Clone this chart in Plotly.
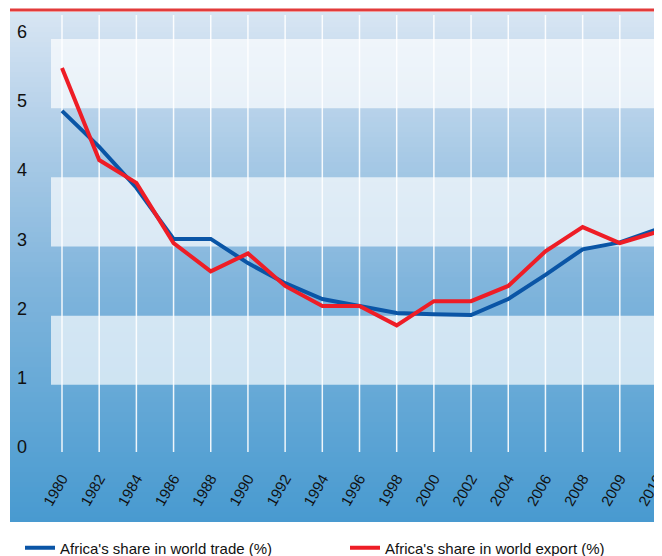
import plotly.graph_objects as go

years = ["1980", "1982", "1984", "1986", "1988", "1990", "1992", "1994", "1996",
         "1998", "2000", "2002", "2004", "2006", "2008", "2009", "2010"]
trade = [4.96, 4.44, 3.85, 3.11, 3.11, 2.76, 2.47, 2.24, 2.14,
         2.04, 2.02, 2.01, 2.24, 2.59, 2.96, 3.06, 3.25]
export = [5.58, 4.25, 3.92, 3.05, 2.64, 2.90, 2.43, 2.14, 2.14,
          1.86, 2.21, 2.21, 2.43, 2.93, 3.28, 3.05, 3.21]
y_ticks = [0, 1, 2, 3, 4, 5, 6]
trade_name = "Africa's share in world trade (%)"
export_name = "Africa's share in world export (%)"

OFF = 8                      # page body margin
W, H = 662 - OFF, 556 - OFF
ML, MR = 10 - OFF, 0
MT = 12 - OFF
PLOT_BOT = 466               # page pixel row of plot bottom
MB = H - (PLOT_BOT - OFF)
plot_h = H - MT - MB
plot_w = W - ML - MR

def py(pix):
    return (H - MB - (pix - OFF)) / plot_h

def pxx(pix):
    return (pix - OFF - ML) / plot_w

stops = [(12, (216, 229, 243)), (143, (172, 204, 231)), (281, (129, 181, 220)),
         (400, (100, 168, 214)), (522, (72, 154, 208))]

def col_at(p):
    for (p0, c0), (p1, c1) in zip(stops[:-1], stops[1:]):
        if p0 <= p <= p1:
            t = (p - p0) / (p1 - p0)
            return tuple(round(a + (b - a) * t) for a, b in zip(c0, c1))
    return stops[-1][1]

shapes = []
N = 102
top, bot = 12, 522
step = (bot - top) / N
for i in range(N):
    p0 = top + i * step
    p1 = p0 + step + 0.6
    c = col_at(p0 + step / 2)
    shapes.append(dict(type="rect", xref="paper", yref="paper", x0=0, x1=1,
                       y0=py(min(p1, bot)), y1=py(p0), layer="below",
                       line=dict(width=0), fillcolor="rgb(%d,%d,%d)" % c))

for v in y_ticks[1::2]:
    shapes.append(dict(type="rect", xref="paper", yref="y", x0=pxx(51), x1=pxx(658),
                       y0=v, y1=v + 1, layer="below", line=dict(width=0),
                       fillcolor="rgba(255,255,255,0.68)"))

shapes.append(dict(type="line", xref="paper", yref="paper", x0=0, x1=1,
                   y0=py(10), y1=py(10), line=dict(color="#e23b3b", width=3)))

px_per_idx = (657 - 62) / (len(years) - 1)
xr0 = -(62 - 10) / px_per_idx
xr1 = (len(years) - 1) + (662 - 657) / px_per_idx
px_per_unit = (454 - 39) / 6
yr0 = -(PLOT_BOT - 454) / px_per_unit
yr1 = 6 + (39 - 12) / px_per_unit

# vertical white guide lines at each year (drawn beneath the data lines)
g_lo = yr0 + (PLOT_BOT - 452) / px_per_unit
g_hi = yr0 + (PLOT_BOT - 15) / px_per_unit
gx, gy = [], []
for yr in years:
    gx += [yr, yr, None]
    gy += [g_lo, g_hi, None]

fig = go.Figure()
fig.add_trace(go.Scatter(x=gx, y=gy, mode="lines", showlegend=False, hoverinfo="skip",
                         line=dict(color="rgba(255,255,255,0.9)", width=1.5)))
fig.add_trace(go.Scatter(x=years, y=trade, mode="lines", name=trade_name,
                         line=dict(color="#0a55a6", width=4), legend="legend"))
fig.add_trace(go.Scatter(x=years, y=export, mode="lines", name=export_name,
                         line=dict(color="#ee1d26", width=4), legend="legend2"))

annotations = [dict(xref="paper", yref="y", x=pxx(15), y=v, yshift=7,
                    text=str(v), showarrow=False, xanchor="left", yanchor="middle",
                    font=dict(size=18, color="#111111"))
               for v in y_ticks]

leg = dict(orientation="h", yanchor="middle", xanchor="left",
           xref="container", yref="container",
           font=dict(size=15, color="#111111"), bgcolor="rgba(0,0,0,0)")
leg_y = 1 - (548 - OFF) / H

fig.update_layout(
    width=W, height=H,
    margin=dict(l=ML, r=MR, t=MT, b=MB, pad=0, autoexpand=False),
    paper_bgcolor="white", plot_bgcolor="rgba(0,0,0,0)",
    font=dict(family="Liberation Sans, Arial, sans-serif", color="#111111"),
    shapes=shapes,
    annotations=annotations,
    showlegend=True,
    legend=dict(leg, x=(20 - OFF) / W, y=leg_y),
    legend2=dict(leg, x=(345 - OFF) / W, y=leg_y),
    xaxis=dict(type="category", range=[xr0, xr1], showgrid=False, zeroline=False,
               showline=False, ticks="", tickangle=-60,
               tickfont=dict(size=15, color="#111111"),
               fixedrange=True, automargin=False),
    yaxis=dict(range=[yr0, yr1], showgrid=False, zeroline=False,
               showline=False, ticks="", showticklabels=False,
               fixedrange=True, automargin=False),
)

fig.write_html("out.html")
